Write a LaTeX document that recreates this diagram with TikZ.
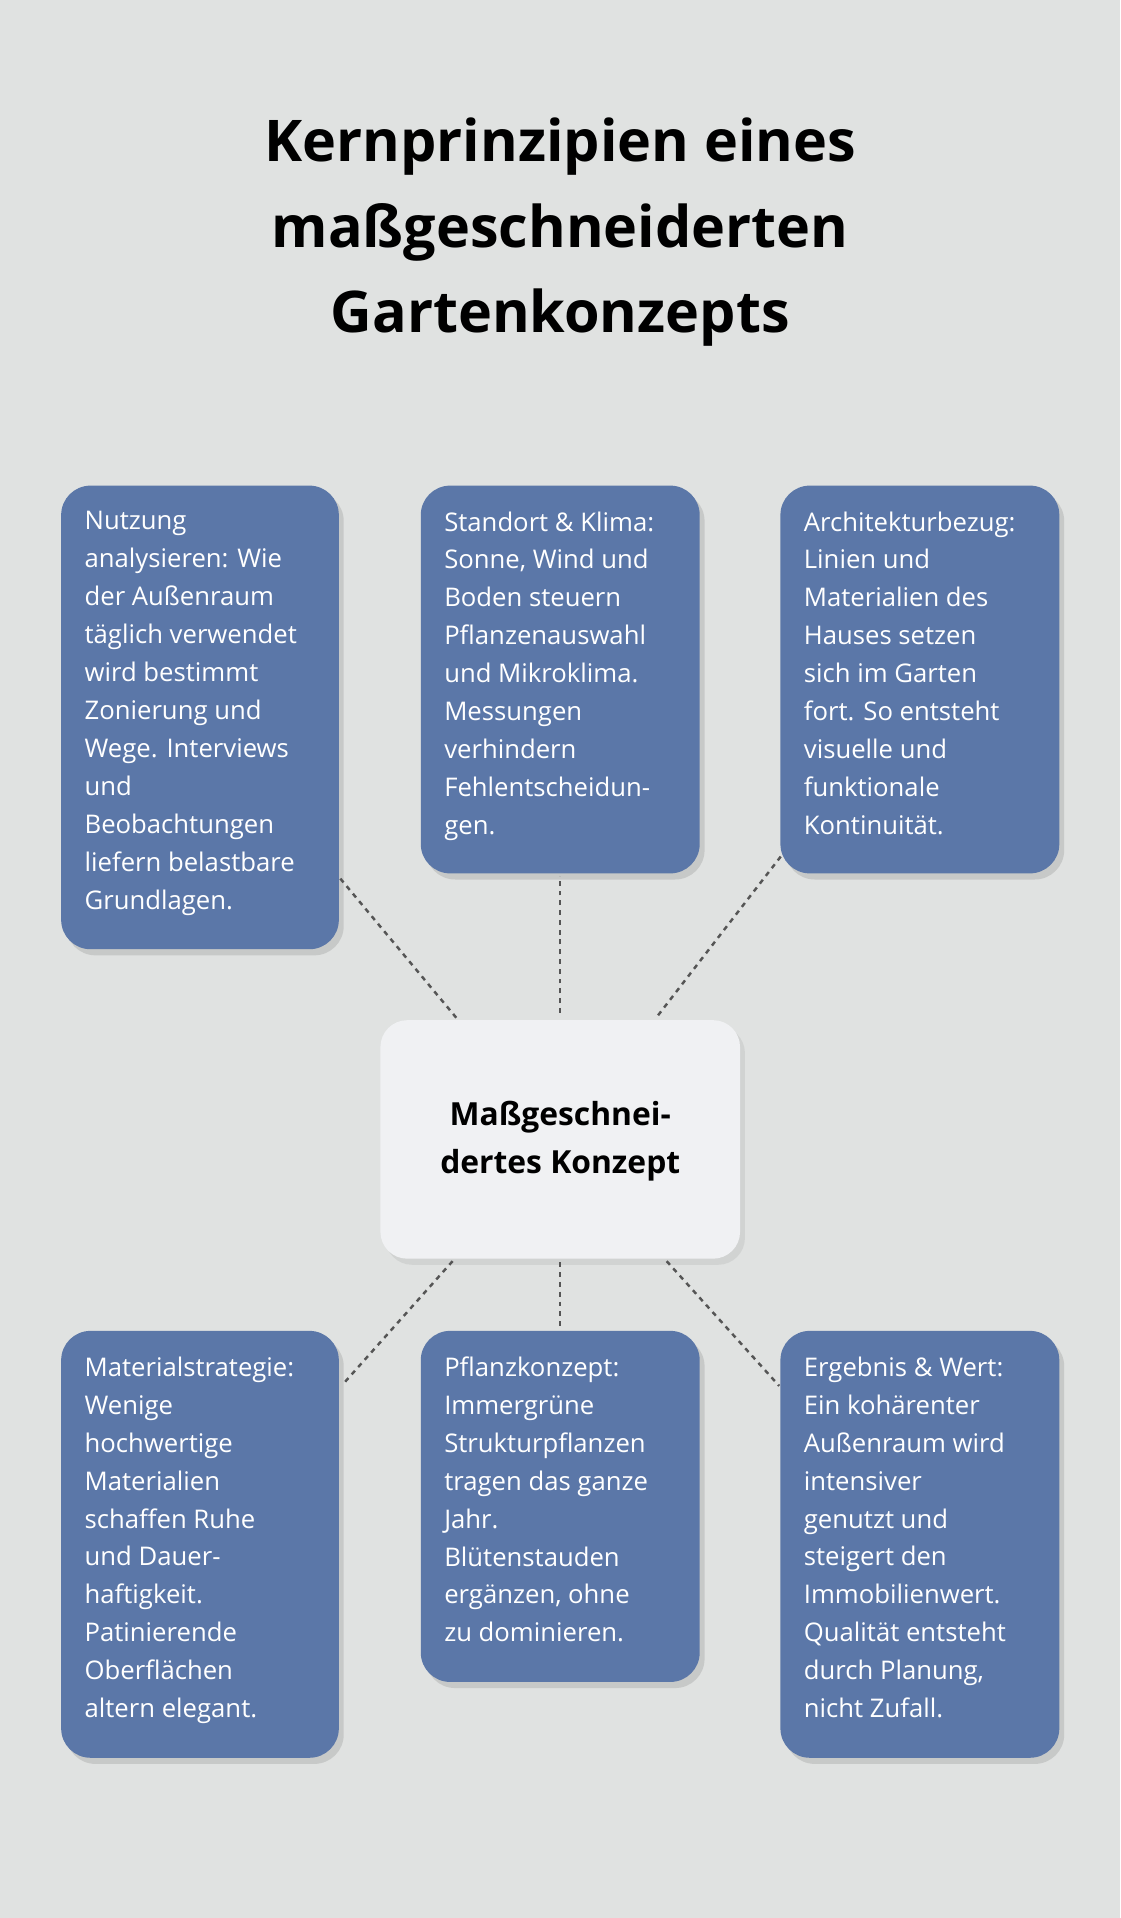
\documentclass[tikz,border=0pt]{standalone}
\usepackage{fontspec}
\setmainfont{Open Sans}
\usetikzlibrary{shadows}
\definecolor{bg}{HTML}{E0E2E1}
\definecolor{boxc}{HTML}{5B77A8}
\definecolor{cbox}{HTML}{F0F1F3}
\definecolor{lnc}{HTML}{555555}
\begin{document}
\begin{tikzpicture}[x=1pt,y=-1pt,
  card/.style={fill=boxc,rounded corners=24pt,drop shadow={opacity=0.25,shadow xshift=4pt,shadow yshift=-5pt}},
  ctext/.style={anchor=north west,align=left,text=white,inner sep=0pt,font=\fontsize{21}{31}\selectfont},
  conn/.style={draw=lnc,line width=2pt,dash pattern=on 4pt off 4pt}]
\fill[bg] (0,0) rectangle (916,1568);
\useasboundingbox (0,0) rectangle (916,1568);
\node[align=center,font=\fontsize{47}{70}\selectfont\bfseries] (title) at (458,190) {Kernprinzipien eines\\maßgeschneiderten\\Gartenkonzepts};
% cards
\path[card] (50,397) rectangle (277,776);
\path[card] (344,397) rectangle (572,714);
\path[card] (638,397) rectangle (866,714);
\path[card] (50,1088) rectangle (277,1437);
\path[card] (344,1088) rectangle (572,1375);
\path[card] (638,1088) rectangle (866,1437);
\path[fill=cbox,rounded corners=22pt,drop shadow={opacity=0.15,shadow xshift=4pt,shadow yshift=-5pt}] (311,834) rectangle (605,1029);
\node[inner sep=0pt,minimum width=294pt,minimum height=195pt] (c) at (458,931.5) {};
\node[align=center,font=\fontsize{26}{39}\selectfont\bfseries] (ct) at (458,933) {Maßgeschnei-\\dertes Konzept};
% connectors
\coordinate (a1) at (373,832); \coordinate (b1) at (278,718);
\coordinate (a2) at (458,828); \coordinate (b2) at (458,716);
\coordinate (a3) at (538,830); \coordinate (b3) at (640,698);
\coordinate (a4) at (370,1031); \coordinate (b4) at (280,1132);
\coordinate (a5) at (458,1032); \coordinate (b5) at (458,1085);
\coordinate (a6) at (545,1031); \coordinate (b6) at (637,1133);
\foreach \i in {1,...,6} \draw[conn] (a\i) -- (b\i);
% texts
\node[ctext] (t1) at (69,418) {Nutzung\\analysieren: Wie\\der Außenraum\\täglich verwendet\\wird bestimmt\\Zonierung und\\Wege. Interviews\\und\\Beobachtungen\\liefern belastbare\\Grundlagen.};
\node[ctext] (t2) at (363,418) {Standort \& Klima:\\Sonne, Wind und\\Boden steuern\\Pflanzenauswahl\\und Mikroklima.\\Messungen\\verhindern\\Fehlentscheidun-\\gen.};
\node[ctext] (t3) at (657,418) {Architekturbezug:\\Linien und\\Materialien des\\Hauses setzen\\sich im Garten\\fort. So entsteht\\visuelle und\\funktionale\\Kontinuität.};
\node[ctext] (t4) at (69,1109) {Materialstrategie:\\Wenige\\hochwertige\\Materialien\\schaffen Ruhe\\und Dauer-\\haftigkeit.\\Patinierende\\Oberflächen\\altern elegant.};
\node[ctext] (t5) at (363,1109) {Pflanzkonzept:\\Immergrüne\\Strukturpflanzen\\tragen das ganze\\Jahr.\\Blütenstauden\\ergänzen, ohne\\zu dominieren.};
\node[ctext] (t6) at (657,1109) {Ergebnis \& Wert:\\Ein kohärenter\\Außenraum wird\\intensiver\\genutzt und\\steigert den\\Immobilienwert.\\Qualität entsteht\\durch Planung,\\nicht Zufall.};
\end{tikzpicture}
\end{document}
